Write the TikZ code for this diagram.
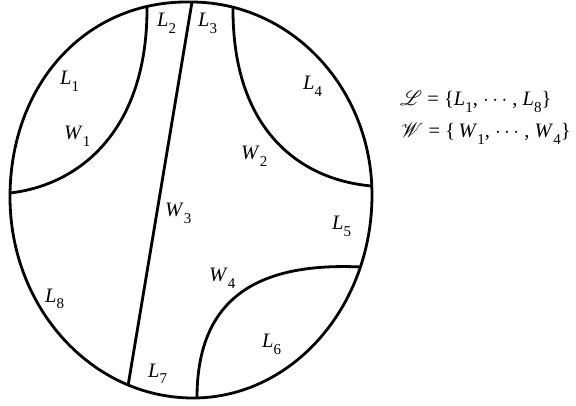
\documentclass[tikz,border=0pt]{standalone}
\usepackage{fontspec}
\usepackage{mathrsfs}
\setmainfont{Liberation Serif}
\newcommand\sublab[1]{\raisebox{-6.5pt}{\fontsize{15}{15}\selectfont #1}}
\newcommand\lab[2]{\textit{#1}\sublab{#2}}
\begin{document}
\begin{tikzpicture}[x=1pt,y=-1pt,
  line/.style={line width=2.8pt},
  lbl/.style={anchor=base west,inner sep=0pt,font=\fontsize{20.5}{20.5}\selectfont}]
\useasboundingbox (0,0) rectangle (576,406);
% outline
\coordinate (top) at (191,2);
\coordinate (rgt) at (372,195);
\coordinate (bot) at (193,398);
\coordinate (lft) at (10,197);
\draw[line] (top) .. controls (291,2) and (372,88) .. (rgt)
  .. controls (372,307) and (292,398) .. (bot)
  .. controls (92,398) and (10,308) .. (lft)
  .. controls (10,85) and (85,0) .. cycle;
% endpoints
\coordinate (w1a) at (147,6);
\coordinate (w1b) at (10,193);
\coordinate (w2a) at (233,7);
\coordinate (w2b) at (372,186);
\coordinate (w3a) at (192,2);
\coordinate (w3b) at (128,386);
\coordinate (w4a) at (197,398);
\coordinate (w4b) at (361,267);
\draw[line] (w1a) .. controls (148,130) and (80,185) .. (w1b);
\draw[line] (w2a) .. controls (232,130) and (300,180) .. (w2b);
\draw[line] (w3a) -- (w3b);
\draw[line] (w4a) .. controls (197,300) and (255,262) .. (w4b);
% labels
\node[lbl] (L1) at (60,85) {\lab{L}{1}};
\node[lbl] (W1) at (64,140) {\lab{W}{1}};
\node[lbl] (L2) at (157,27) {\lab{L}{2}};
\node[lbl] (L3) at (198,27) {\lab{L}{3}};
\node[lbl] (L4) at (303,90) {\lab{L}{4}};
\node[lbl] (W2) at (241,160) {\lab{W}{2}};
\node[lbl] (W3) at (165,217) {\lab{W}{3}};
\node[lbl] (L5) at (332,230) {\lab{L}{5}};
\node[lbl] (W4) at (209,282) {\lab{W}{4}};
\node[lbl] (L6) at (262,348) {\lab{L}{6}};
\node[lbl] (L7) at (148,377) {\lab{L}{7}};
\node[lbl] (L8) at (45,302) {\lab{L}{8}};
\node[lbl] (setL) at (400,106) {$\mathscr{L}$ = \{\lab{L}{1},\ $\cdots$\ , \lab{L}{8}\}};
\node[lbl] (setW) at (401,138) {$\mathscr{W}$ = \{\,\lab{W}{1},\ $\cdots$\ , \lab{W}{4}\}};
\end{tikzpicture}
\end{document}
